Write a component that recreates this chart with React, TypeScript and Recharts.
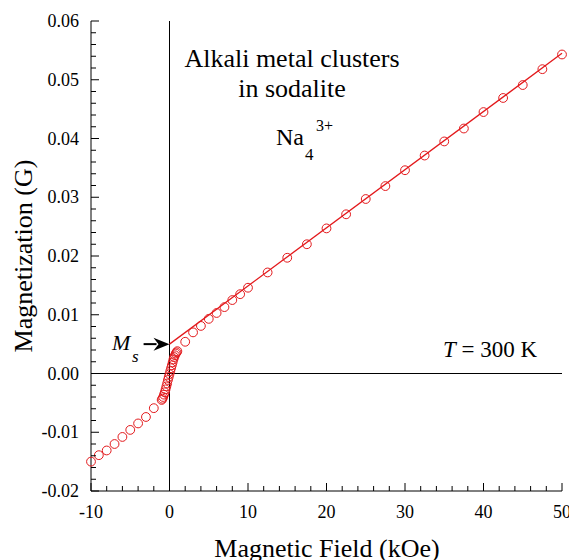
import React from "react";
import {
  ComposedChart, Scatter, Line, XAxis, YAxis, ReferenceLine,
} from "recharts";

// measured points, field in kOe, magnetization in G
const negH = [-10, -9, -8, -7, -6, -5, -4, -3, -2];
const negM = [-0.0150, -0.0139, -0.0131, -0.0120, -0.0108, -0.0096, -0.0085, -0.0074, -0.0059];

const loopH = [-1.0, -0.9, -0.8, -0.7, -0.6, -0.5, -0.4, -0.3, -0.2, -0.1, 0, 0.1, 0.2, 0.3, 0.4, 0.5, 0.6, 0.7, 0.8, 0.9, 1.0];
const loopM = [-0.0045, -0.0043, -0.0040, -0.0036, -0.0032, -0.0027, -0.0022, -0.0017, -0.0011, -0.0006, -0.0001, 0.0004, 0.0009, 0.0014, 0.0019, 0.0024, 0.0028, 0.0031, 0.0034, 0.0036, 0.0038];

const posH = [2, 3, 4, 5, 6, 7, 8, 9, 10, 12.5, 15, 17.5, 20, 22.5, 25, 27.5, 30, 32.5, 35, 37.5, 40, 42.5, 45, 47.5, 50];
const posM = [0.0054, 0.0070, 0.0081, 0.0093, 0.0103, 0.0113, 0.0125, 0.0135, 0.0146, 0.0172, 0.0197, 0.0220, 0.0247, 0.0271, 0.0297, 0.0319, 0.0346, 0.0371, 0.0395, 0.0417, 0.0445, 0.0469, 0.0491, 0.0518, 0.0543];

// linear fit of the high-field part, extrapolated to H = 0 (Ms)
const fitH = [0, 50];
const fitM = [0.0050, 0.0545];
const msH = [-3.3, 0];
const msM = 0.0050;

const xMajor = [-10, 0, 10, 20, 30, 40, 50];
const xTicks = [-10, -8, -6, -4, -2, 0, 2, 4, 6, 8, 10, 12, 14, 16, 18, 20, 22, 24, 26, 28, 30, 32, 34, 36, 38, 40, 42, 44, 46, 48, 50];
const yMajor = [-0.02, -0.01, 0, 0.01, 0.02, 0.03, 0.04, 0.05, 0.06];
const yTicks = [
  -0.02, -0.018, -0.016, -0.014, -0.012, -0.01, -0.008, -0.006, -0.004, -0.002,
  0, 0.002, 0.004, 0.006, 0.008, 0.01, 0.012, 0.014, 0.016, 0.018,
  0.02, 0.022, 0.024, 0.026, 0.028, 0.03, 0.032, 0.034, 0.036, 0.038,
  0.04, 0.042, 0.044, 0.046, 0.048, 0.05, 0.052, 0.054, 0.056, 0.058, 0.06,
];

const RED = "#e3191c";
const SERIF = { fontFamily: "Liberation Serif, Times New Roman, serif" };

const points = [
  ...negH.map((h, i) => ({ h, m: negM[i] })),
  ...loopH.map((h, i) => ({ h, m: loopM[i] })),
  ...posH.map((h, i) => ({ h, m: posM[i] })),
];
const fitData = fitH.map((h, i) => ({ h, m: fitM[i] }));

const isMajorX = (v: number) => xMajor.some((t) => Math.abs(t - v) < 1e-9);
const isMajorY = (v: number) => yMajor.some((t) => Math.abs(t - v) < 1e-9);

const BottomTick = ({ x, y, payload }: any) => {
  const major = isMajorX(payload.value);
  return (
    <g>
      <line x1={x} y1={y} x2={x} y2={y - (major ? 8 : 5)} stroke="#000" />
      {major && (
        <text x={x} y={y + 26.5} textAnchor="middle" style={SERIF} fontSize={18} fill="#000">
          {payload.value}
        </text>
      )}
    </g>
  );
};

const TopTick = ({ x, y, payload }: any) => {
  const major = isMajorX(payload.value);
  return <line x1={x} y1={y} x2={x} y2={y + (major ? 8 : 5)} stroke="#000" />;
};

const LeftTick = ({ x, y, payload }: any) => {
  const major = isMajorY(payload.value);
  return (
    <g>
      <line x1={x} y1={y} x2={x + (major ? 8 : 5)} y2={y} stroke="#000" />
      {major && (
        <text x={x - 12} y={y + 6} textAnchor="end" style={SERIF} fontSize={18} fill="#000">
          {payload.value.toFixed(2)}
        </text>
      )}
    </g>
  );
};

const RightTick = ({ x, y, payload }: any) => {
  const major = isMajorY(payload.value);
  return <line x1={x} y1={y} x2={x - (major ? 8 : 5)} y2={y} stroke="#000" />;
};

const OpenCircle = ({ cx, cy }: any) => (
  <circle cx={cx} cy={cy} r={4.4} fill="none" stroke={RED} strokeWidth={1} />
);

const Arrow = ({ x1, y1, x2, y2 }: any) => {
  const L = 16;
  return (
    <g>
      <line x1={x1} y1={y1} x2={x2 - L + 3} y2={y2} stroke="#000" strokeWidth={2} />
      <polygon
        points={`${x2},${y2} ${x2 - L},${y2 - 6.5} ${x2 - L + 5},${y2} ${x2 - L},${y2 + 6.5}`}
        fill="#000"
      />
    </g>
  );
};

export default function App() {
  return (
    <div style={{ position: "absolute", left: 0, top: 0 }}>
      <ComposedChart width={569} height={560} margin={{ top: 21, right: 7, left: 0, bottom: 0 }}>
        <XAxis
          xAxisId={0}
          dataKey="h"
          type="number"
          domain={[-10, 50]}
          ticks={xTicks}
          interval={0}
          tickSize={0}
          tickMargin={0}
          tickLine={false}
          tick={<BottomTick />}
          axisLine={{ stroke: "#000" }}
          height={69}
        />
        <XAxis
          xAxisId="top"
          orientation="top"
          type="number"
          domain={[-10, 50]}
          ticks={xTicks}
          interval={0}
          tickSize={0}
          tickMargin={0}
          tickLine={false}
          tick={<TopTick />}
          axisLine={{ stroke: "#000" }}
          height={0}
        />
        <YAxis
          yAxisId={0}
          dataKey="m"
          type="number"
          domain={[-0.02, 0.06]}
          ticks={yTicks}
          interval={0}
          tickSize={0}
          tickMargin={0}
          tickLine={false}
          tick={<LeftTick />}
          axisLine={{ stroke: "#000" }}
          width={91}
        />
        <YAxis
          yAxisId="right"
          orientation="right"
          type="number"
          domain={[-0.02, 0.06]}
          ticks={yTicks}
          interval={0}
          tickSize={0}
          tickMargin={0}
          tickLine={false}
          tick={<RightTick />}
          axisLine={{ stroke: "#000" }}
          width={0}
        />
        <ReferenceLine x={0} stroke="#000" strokeWidth={1} />
        <ReferenceLine y={0} stroke="#000" strokeWidth={1} />
        <Line
          data={fitData}
          dataKey="m"
          stroke={RED}
          strokeWidth={1.3}
          dot={false}
          activeDot={false}
          isAnimationActive={false}
        />
        <Scatter data={points} dataKey="m" shape={<OpenCircle />} isAnimationActive={false} />
        <ReferenceLine
          segment={[{ x: msH[0], y: msM }, { x: msH[1], y: msM }]}
          shape={<Arrow />}
        />

        <text x={292} y={67} textAnchor="middle" style={SERIF} fontSize={26} fill="#000">
          Alkali metal clusters
        </text>
        <text x={292} y={97} textAnchor="middle" style={SERIF} fontSize={26} fill="#000">
          in sodalite
        </text>
        <text x={276} y={145} style={SERIF} fontSize={24} fill="#000">Na</text>
        <text x={305} y={160} style={SERIF} fontSize={17} fill="#000">4</text>
        <text x={316} y={131} style={SERIF} fontSize={16} fill="#000">3+</text>

        <text x={112} y={350} style={SERIF} fontSize={22} fontStyle="italic" fill="#000">M</text>
        <text x={132} y={362} style={SERIF} fontSize={17} fontStyle="italic" fill="#000">s</text>

        <text x={443} y={357} style={SERIF} fontSize={23} fill="#000">
          <tspan fontStyle="italic">T</tspan> = 300 K
        </text>

        <text x={327} y={557} textAnchor="middle" style={SERIF} fontSize={26} fill="#000">
          Magnetic Field (kOe)
        </text>
        <text
          x={32}
          y={256}
          textAnchor="middle"
          style={SERIF}
          fontSize={26}
          fill="#000"
          transform="rotate(-90 32 256)"
        >
          Magnetization (G)
        </text>
      </ComposedChart>
    </div>
  );
}
